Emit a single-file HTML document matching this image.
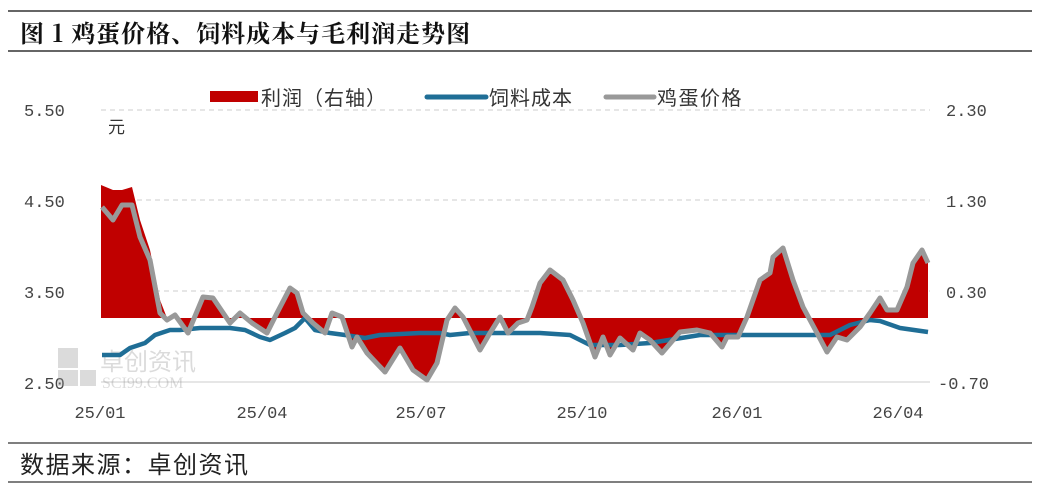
<!DOCTYPE html>
<html><head><meta charset="utf-8"><style>
html,body{margin:0;padding:0;background:#fff;}
</style></head><body>
<svg width="1040" height="503" xmlns="http://www.w3.org/2000/svg" style="display:block">
<line x1="8" y1="11" x2="1032" y2="11" stroke="#333" stroke-width="1.5"/>
<text x="20" y="42" font-family="Noto Serif CJK SC, serif" font-weight="bold" font-size="24" letter-spacing="1" fill="#111">图 1 鸡蛋价格、饲料成本与毛利润走势图</text>
<line x1="8" y1="51" x2="1032" y2="51" stroke="#333" stroke-width="1.5"/>
<g stroke="#ccc" stroke-dasharray="5,4" stroke-width="1">
<line x1="101" y1="110" x2="930" y2="110"/>
<line x1="101" y1="200" x2="930" y2="200"/>
<line x1="101" y1="291" x2="930" y2="291"/>
</g>
<line x1="101" y1="382" x2="930" y2="382" stroke="#ccc"/>
<g font-family="Liberation Mono, monospace" font-size="17" fill="#444">
<text x="24" y="116">5.50</text><text x="24" y="207">4.50</text><text x="24" y="298">3.50</text><text x="24" y="389">2.50</text>
<text x="946" y="116">2.30</text><text x="946" y="207">1.30</text><text x="946" y="298">0.30</text><text x="938" y="389">-0.70</text>
</g>
<g font-family="Liberation Mono, monospace" font-size="17" fill="#444" text-anchor="middle">
<text x="100" y="418">25/01</text><text x="262" y="418">25/04</text><text x="421" y="418">25/07</text><text x="582" y="418">25/10</text><text x="737" y="418">26/01</text><text x="898" y="418">26/04</text>
</g>
<text x="108" y="133" font-family="Noto Sans CJK SC, sans-serif" font-size="17" fill="#333">元</text>
<rect x="210" y="91" width="48" height="11" fill="#c00000"/>
<text x="261" y="105" font-family="Noto Sans CJK SC, sans-serif" font-size="20" letter-spacing="1" fill="#333">利润（右轴）</text>
<line x1="427" y1="97" x2="486" y2="97" stroke="#1f6e96" stroke-width="5" stroke-linecap="round"/>
<text x="489" y="105" font-family="Noto Sans CJK SC, sans-serif" font-size="20" letter-spacing="1" fill="#333">饲料成本</text>
<line x1="606" y1="97" x2="654" y2="97" stroke="#999" stroke-width="5" stroke-linecap="round"/>
<text x="657" y="105" font-family="Noto Sans CJK SC, sans-serif" font-size="20" letter-spacing="1.5" fill="#333">鸡蛋价格</text>
<g opacity="0.35">
<rect x="58" y="348" width="20" height="20" fill="#999"/><rect x="58" y="370" width="20" height="16" fill="#999"/><rect x="80" y="370" width="16" height="16" fill="#999"/>
<text x="100" y="370" font-family="Noto Sans CJK SC, sans-serif" font-size="24" fill="#999">卓创资讯</text>
<text x="102" y="388" font-family="Liberation Serif, serif" font-size="16" fill="#999">SCI99.COM</text>
</g>
<polygon fill="#c00000" points="101,318 101,185 113,190 122,190 132,187 140,220 150,250 160,300 167,318 175,315 188,333 203,297 213,298 230,323 240,313 252,323 267,333 277,313 290,288 297,293 303,313 313,323 325,333 332,313 342,317 352,347 357,337 367,353 385,372 400,348 413,370 427,380 437,363 447,320 455,308 463,317 480,350 490,333 500,317 508,333 518,323 527,320 532,307 540,283 550,270 563,280 573,300 583,323 595,357 603,337 610,355 620,338 633,350 640,333 650,340 662,353 680,332 697,330 710,333 722,347 727,337 738,337 747,317 760,280 770,273 773,257 783,248 793,280 803,307 817,333 827,352 837,337 847,340 860,327 870,313 880,298 887,310 897,310 907,287 913,263 922,250 928,263 928,318"/>
<polyline fill="none" stroke="#1f6e96" stroke-width="4.5" stroke-linejoin="round" points="102,355 120,355 130,348 145,343 155,335 170,330 180,330 200,328 230,328 245,330 260,337 270,340 285,333 295,328 305,318 315,330 330,333 345,335 365,338 380,335 420,333 440,333 450,335 470,333 540,333 570,335 580,340 590,345 620,345 650,343 700,335 800,335 830,335 850,325 870,320 880,321 900,328 928,332"/>
<polyline fill="none" stroke="#999" stroke-width="5" stroke-linejoin="round" points="102,207 113,220 122,205 132,205 140,237 150,260 160,313 167,320 175,315 188,333 203,297 213,298 230,323 240,313 252,323 267,333 277,313 290,288 297,293 303,313 313,323 325,333 332,313 342,317 352,347 357,337 367,353 385,372 400,348 413,370 427,380 437,363 447,320 455,308 463,317 480,350 490,333 500,317 508,333 518,323 527,320 532,307 540,283 550,270 563,280 573,300 583,323 595,357 603,337 610,355 620,338 633,350 640,333 650,340 662,353 680,332 697,330 710,333 722,347 727,337 738,337 747,317 760,280 770,273 773,257 783,248 793,280 803,307 817,333 827,352 837,337 847,340 860,327 870,313 880,298 887,310 897,310 907,287 913,263 922,250 928,263"/>
<line x1="8" y1="443" x2="1032" y2="443" stroke="#333" stroke-width="1.2"/>
<text x="20" y="473" font-family="Noto Sans CJK SC, sans-serif" font-size="24" letter-spacing="1.5" fill="#222">数据来源：卓创资讯</text>
<line x1="8" y1="482" x2="1032" y2="482" stroke="#333" stroke-width="1.2"/>
</svg>
</body></html>
